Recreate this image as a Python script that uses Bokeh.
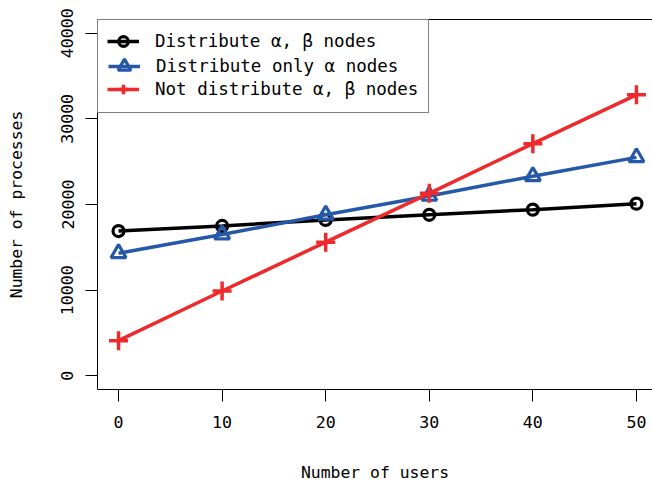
from bokeh.plotting import figure
from bokeh.models import Range1d, LinearAxis, FixedTicker, Legend, LegendItem
from bokeh.embed import file_html
from bokeh.resources import INLINE

users = [0, 10, 20, 30, 40, 50]
dist_both = [16900, 17500, 18200, 18800, 19400, 20100]
dist_alpha = [14300, 16500, 18800, 21000, 23300, 25500]
not_dist = [4100, 9900, 15600, 21300, 27100, 32800]
x_ticks = [0, 10, 20, 30, 40, 50]
y_ticks = [0, 10000, 20000, 30000, 40000]
labels = ["Distribute \u03b1, \u03b2 nodes", "Distribute only \u03b1 nodes", "Not distribute \u03b1, \u03b2 nodes"]
x_title = "Number of users"
y_title = "Number of processes"

FONT = "'DejaVu Sans Mono', 'Liberation Mono', monospace"
TOP = 19
FRAME_H = 371

p = figure(width=652, height=484, output_backend="svg", toolbar_location=None,
           x_range=Range1d(-2.03, 51.55), y_range=Range1d(-1600, 41600),
           x_axis_location=None, y_axis_location=None,
           min_border_left=97, min_border_top=TOP, min_border_bottom=94, min_border_right=0)
p.outline_line_color = None
p.xgrid.visible = False
p.ygrid.visible = False
p.background_fill_color = "white"
p.border_fill_color = "white"

xa = LinearAxis(ticker=FixedTicker(ticks=x_ticks), axis_label=x_title)
ya = LinearAxis(ticker=FixedTicker(ticks=y_ticks), axis_label=y_title)
ta = LinearAxis(ticker=FixedTicker(ticks=[]), major_label_text_font_size="0px",
                major_tick_out=0, major_tick_in=0, minor_tick_out=0, minor_tick_in=0)
for ax in (xa, ya):
    ax.major_tick_out = 12
    ax.major_tick_in = 0
    ax.minor_tick_out = 0
    ax.minor_tick_in = 0
    ax.major_label_text_font = FONT
    ax.major_label_text_font_size = "16.6px"
    ax.major_label_text_color = "black"
    ax.axis_label_text_font = FONT
    ax.axis_label_text_font_size = "16.4px"
    ax.axis_label_text_font_style = "normal"
    ax.axis_label_text_color = "black"
    ax.axis_line_color = "black"
    ax.major_tick_line_color = "black"
xa.major_label_standoff = 14
xa.axis_label_standoff = 32
ya.major_label_standoff = 12
ya.axis_label_standoff = 33
ya.major_label_orientation = "vertical"
ta.axis_line_color = "black"
p.add_layout(xa, "below")
p.add_layout(ya, "left")
p.add_layout(ta, "above")

BLACK = "black"
BLUE = "#2558A8"
RED = "#EE2A2C"

l1 = p.line(users, dist_both, line_color=BLACK, line_width=3.5)
s1 = p.scatter(users, dist_both, marker="circle", size=11, fill_color=None,
               line_color=BLACK, line_width=3.2)
l2 = p.line(users, dist_alpha, line_color=BLUE, line_width=3.5)
s2 = p.scatter(users, dist_alpha, marker="triangle", size=15, fill_color=None,
               line_color=BLUE, line_width=3.2)
l3 = p.line(users, not_dist, line_color=RED, line_width=3.5)
s3 = p.scatter(users, not_dist, marker="cross", size=19, fill_color=None,
               line_color=RED, line_width=3.5)

common = dict(margin=0, spacing=0, glyph_width=32, label_standoff=16,
              label_width=262, label_text_font=FONT, label_text_font_size="17.5px",
              label_text_color="black")

# framed legend box (holds the middle entry, centred in the box)
leg_box = Legend(items=[LegendItem(label=labels[1], renderers=[l2, s2])],
                 location="top_left", padding=10, glyph_height=72, label_height=72,
                 border_line_color="black", border_line_width=1,
                 background_fill_color="white", background_fill_alpha=1.0, **common)

# first and last entries, one row (24 px) above / below the middle one
ROW = 24
PAD = 10


def row_location(center_y):
    return (PAD, FRAME_H - (center_y - TOP) - ROW / 2)


leg_top = Legend(items=[LegendItem(label=labels[0], renderers=[l1, s1])],
                 location=row_location(42), padding=0, glyph_height=ROW, label_height=ROW,
                 border_line_color=None, background_fill_alpha=0.0, **common)
leg_bot = Legend(items=[LegendItem(label=labels[2], renderers=[l3, s3])],
                 location=row_location(90), padding=0, glyph_height=ROW, label_height=ROW,
                 border_line_color=None, background_fill_alpha=0.0, **common)
p.add_layout(leg_box, "center")
p.add_layout(leg_top, "center")
p.add_layout(leg_bot, "center")

open("out.html", "w").write(file_html(p, INLINE))
